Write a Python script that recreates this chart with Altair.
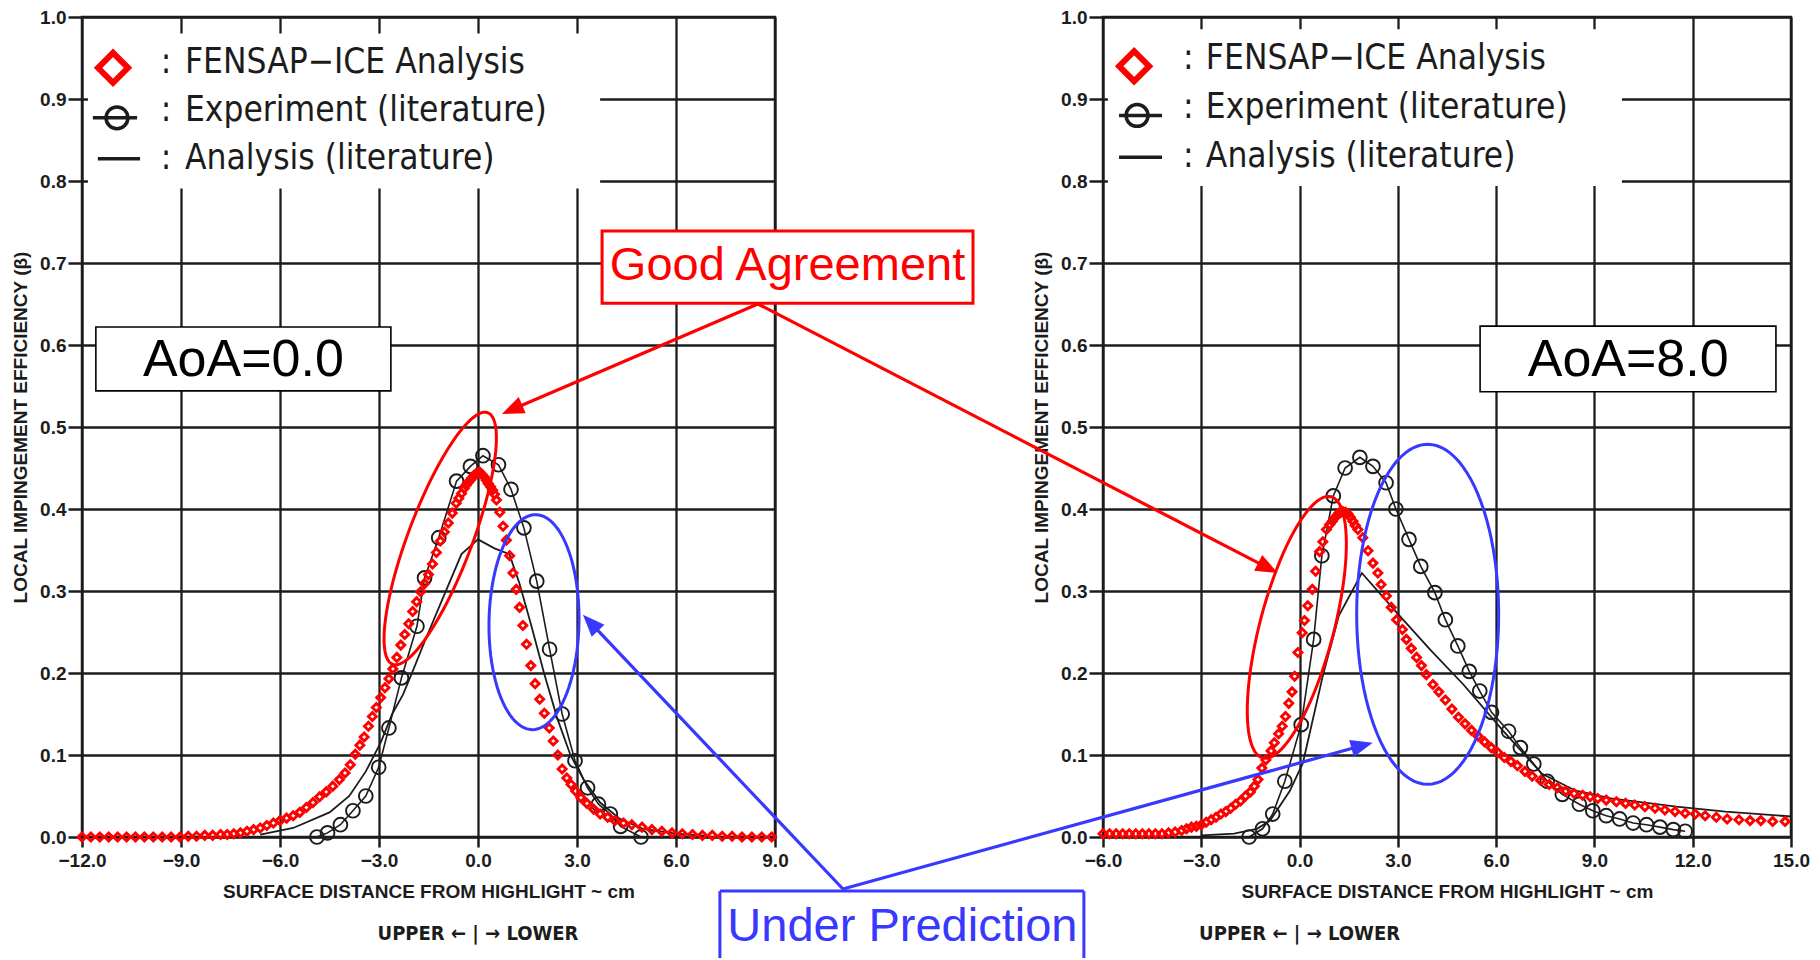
import math
import altair as alt
import pandas as pd

# ---------------- data ----------------
# Left panel: AoA = 0.0
L_FEN_X = [-12.0, -11.73, -11.46, -11.19, -10.92, -10.65, -10.38, -10.11, -9.84, -9.57,
           -9.3, -9.03, -8.78, -8.53, -8.28, -8.04, -7.8, -7.6, -7.4, -7.2,
           -7.0, -6.8, -6.6, -6.4, -6.2, -6.0, -5.8, -5.6, -5.4, -5.2,
           -5.0, -4.8, -4.6, -4.4, -4.2, -4.03, -3.87, -3.72, -3.58, -3.45,
           -3.32, -3.2, -3.08, -2.95, -2.82, -2.7, -2.58, -2.46, -2.34, -2.22,
           -2.1, -1.98, -1.86, -1.74, -1.62, -1.5, -1.38, -1.26, -1.14, -1.02,
           -0.9, -0.78, -0.66, -0.58, -0.5, -0.42, -0.36, -0.3, -0.24, -0.18,
           -0.12, -0.06, 0.0, 0.05, 0.12, 0.19, 0.25, 0.31, 0.38, 0.44,
           0.5, 0.56, 0.66, 0.76, 0.86, 0.96, 1.06, 1.16, 1.26, 1.36,
           1.47, 1.6, 1.73, 1.87, 2.01, 2.16, 2.28, 2.42, 2.55, 2.69,
           2.82, 2.96, 3.12, 3.3, 3.5, 3.7, 3.93, 4.15, 4.41, 4.66,
           4.97, 5.27, 5.57, 5.88, 6.19, 6.5, 6.8, 7.1, 7.4, 7.7,
           8.0, 8.3, 8.6, 8.9]
L_FEN_Y = [0, 0, 0, 0, 0, 0, 0, 0, 0, 0,
           0, 0, 0.001, 0.001, 0.002, 0.002, 0.003, 0.003, 0.004, 0.005,
           0.007, 0.009, 0.011, 0.014, 0.017, 0.02, 0.023, 0.026, 0.03, 0.036,
           0.042, 0.049, 0.055, 0.062, 0.07, 0.078, 0.088, 0.101, 0.112, 0.122,
           0.135, 0.147, 0.158, 0.17, 0.182, 0.193, 0.205, 0.219, 0.234, 0.247,
           0.26, 0.275, 0.287, 0.299, 0.309, 0.32, 0.333, 0.347, 0.361, 0.372,
           0.383, 0.395, 0.407, 0.413, 0.419, 0.425, 0.429, 0.432, 0.435, 0.438,
           0.441, 0.443, 0.444, 0.445, 0.442, 0.439, 0.435, 0.431, 0.427, 0.423,
           0.418, 0.411, 0.396, 0.379, 0.362, 0.343, 0.322, 0.302, 0.28, 0.258,
           0.235, 0.209, 0.187, 0.168, 0.151, 0.133, 0.117, 0.1, 0.083, 0.072,
           0.064, 0.056, 0.048, 0.041, 0.034, 0.028, 0.024, 0.02, 0.017, 0.015,
           0.012, 0.009, 0.007, 0.005, 0.004, 0.003, 0.002, 0.002, 0.001, 0.001,
           0, 0, 0, 0]
L_EXP_X = [-4.88, -4.56, -4.17, -3.79, -3.4, -3.01, -2.7, -2.32, -1.85, -1.62,
           -1.19, -0.65, -0.23, 0.15, 0.62, 1.0, 1.39, 1.78, 2.17, 2.55,
           2.94, 3.32, 3.65, 4.01, 4.32, 4.94]
L_EXP_Y = [0.0, 0.005, 0.015, 0.032, 0.05, 0.085, 0.133, 0.194, 0.257, 0.316,
           0.365, 0.434, 0.452, 0.465, 0.454, 0.424, 0.377, 0.312, 0.229, 0.15,
           0.093, 0.06, 0.04, 0.028, 0.013, 0.0]
L_ANA_X = [-6.6, -5.6, -4.5, -3.9, -3.4, -2.95, -2.6, -2.27, -1.95, -1.61,
           -1.1, -0.5, 0.0, 0.5, 0.95, 1.25, 1.6, 2.0, 2.4, 2.8,
           3.2, 3.7, 4.3, 5.0, 6.0, 7.0]
L_ANA_Y = [0.003, 0.011, 0.03, 0.05, 0.08, 0.115, 0.15, 0.174, 0.205, 0.239,
           0.288, 0.345, 0.363, 0.352, 0.345, 0.31, 0.26, 0.2, 0.145, 0.1,
           0.07, 0.042, 0.022, 0.01, 0.004, 0.001]

# Right panel: AoA = 8.0
R_FEN_X = [-6.0, -5.8, -5.6, -5.4, -5.2, -5.0, -4.8, -4.6, -4.4, -4.2,
           -4.0, -3.8, -3.6, -3.45, -3.3, -3.15, -3.0, -2.85, -2.7, -2.55,
           -2.4, -2.25, -2.1, -1.95, -1.8, -1.65, -1.5, -1.38, -1.27, -1.15,
           -1.03, -0.87, -0.77, -0.64, -0.53, -0.43, -0.33, -0.23, -0.15, -0.05,
           0.08, 0.15, 0.25, 0.39, 0.49, 0.61, 0.71, 0.82, 0.92, 1.0,
           1.07, 1.14, 1.2, 1.26, 1.32, 1.4, 1.48, 1.55, 1.63, 1.7,
           1.78, 1.93, 2.09, 2.24, 2.39, 2.49, 2.65, 2.8, 2.96, 3.14,
           3.26, 3.41, 3.57, 3.72, 3.87, 4.07, 4.25, 4.45, 4.65, 4.85,
           5.05, 5.25, 5.45, 5.65, 5.85, 6.05, 6.25, 6.45, 6.65, 6.88,
           7.1, 7.36, 7.62, 7.87, 8.13, 8.38, 8.64, 8.87, 9.1, 9.36,
           9.67, 9.95, 10.23, 10.54, 10.85, 11.15, 11.46, 11.77, 12.08, 12.38,
           12.72, 13.05, 13.41, 13.75, 14.08, 14.44, 14.82]
R_FEN_Y = [0.004, 0.004, 0.004, 0.004, 0.004, 0.004, 0.004, 0.004, 0.004, 0.004,
           0.005, 0.006, 0.008, 0.01, 0.012, 0.013, 0.015, 0.018, 0.021, 0.024,
           0.028, 0.031, 0.035, 0.04, 0.044, 0.05, 0.055, 0.062, 0.07, 0.084,
           0.094, 0.105, 0.115, 0.126, 0.135, 0.147, 0.163, 0.177, 0.196, 0.225,
           0.249, 0.264, 0.282, 0.302, 0.324, 0.348, 0.36, 0.375, 0.381, 0.385,
           0.389, 0.392, 0.395, 0.396, 0.397, 0.396, 0.394, 0.39, 0.385, 0.38,
           0.375, 0.365, 0.349, 0.334, 0.322, 0.308, 0.294, 0.28, 0.265, 0.253,
           0.241, 0.23, 0.219, 0.209, 0.198, 0.186, 0.177, 0.167, 0.156, 0.146,
           0.138, 0.13, 0.123, 0.116, 0.109, 0.103, 0.097, 0.092, 0.087, 0.08,
           0.074, 0.069, 0.064, 0.06, 0.056, 0.053, 0.051, 0.049, 0.047, 0.045,
           0.043, 0.041, 0.039, 0.037, 0.035, 0.033, 0.031, 0.029, 0.028, 0.026,
           0.024, 0.022, 0.021, 0.02, 0.02, 0.019, 0.019]
R_EXP_X = [-1.54, -1.13, -0.82, -0.45, 0.05, 0.43, 0.68, 1.03, 1.39, 1.84,
           2.24, 2.64, 2.94, 3.34, 3.7, 4.13, 4.45, 4.83, 5.18, 5.5,
           5.86, 6.38, 6.74, 7.15, 7.56, 8.02, 8.54, 8.95, 9.36, 9.77,
           10.18, 10.59, 11.0, 11.41, 11.77]
R_EXP_Y = [0.0, 0.01, 0.028, 0.068, 0.137, 0.241, 0.343, 0.416, 0.45, 0.463,
           0.452, 0.432, 0.4, 0.363, 0.33, 0.298, 0.265, 0.233, 0.202, 0.178,
           0.152, 0.129, 0.109, 0.089, 0.068, 0.052, 0.04, 0.032, 0.026, 0.022,
           0.017, 0.015, 0.012, 0.009, 0.007]
R_ANA_X = [-3.0, -2.0, -1.3, -0.9, -0.3, 0.1, 0.3, 0.7, 1.2, 1.9,
           3.0, 4.0, 5.0, 6.2, 7.4, 8.4, 9.5, 11.5, 13.0, 15.0]
R_ANA_Y = [0.002, 0.004, 0.01, 0.02, 0.056, 0.09, 0.125, 0.195, 0.27, 0.322,
           0.272, 0.228, 0.186, 0.13, 0.077, 0.057, 0.047, 0.037, 0.031, 0.025]

L_TICKS = [-12, -9, -6, -3, 0, 3, 6, 9]
R_TICKS = [-6, -3, 0, 3, 6, 9, 12, 15]
Y_TICKS = [i / 10 for i in range(11)]
LEGEND_LABELS = ["FENSAP\u2212ICE Analysis", "Experiment (literature)", "Analysis (literature)"]
XTITLE = "SURFACE DISTANCE FROM HIGHLIGHT ~ cm"
YTITLE = "LOCAL IMPINGEMENT EFFICIENCY (\u03b2)"
SIDE_NOTE = "UPPER \u2190 | \u2192 LOWER"

# ---------------- styling ----------------
RED = "#ff0000"
BLUE = "#3838ff"
INK = "#1c1c1c"
LEG_FONT = "Liberation Sans Narrow, DejaVu Sans Condensed, Liberation Sans"
AX_FONT = "Liberation Sans"
NOTE_FONT = "DejaVu Sans Condensed, Liberation Sans"
PANEL_H = 820
HEAD_PATH = "M0,0L0.4,1L-0.4,1Z"
HEAD_LEN = 22


def ellipse_path(ratio, n=96):
    pts = []
    for k in range(n):
        t = 2 * math.pi * k / n
        pts.append(f"{ratio * math.sin(t):.4f},{-math.cos(t):.4f}")
    return "M" + "L".join(pts) + "Z"


def panel(cfg):
    dom, width = cfg["dom"], cfg["width"]
    sx = width / (dom[1] - dom[0])
    sy = PANEL_H
    X = alt.X("x:Q", scale=alt.Scale(domain=dom, nice=False, zero=False),
              axis=alt.Axis(values=cfg["ticks"], format=".1f", title=XTITLE))
    Y = alt.Y("y:Q", scale=alt.Scale(domain=[0, 1], nice=False, zero=False),
              axis=alt.Axis(values=Y_TICKS, format=".1f", title=YTITLE))
    layers = []
    ana = pd.DataFrame({"x": cfg["ana"][0], "y": cfg["ana"][1]})
    exp = pd.DataFrame({"x": cfg["exp"][0], "y": cfg["exp"][1]})
    fen = pd.DataFrame({"x": cfg["fen"][0], "y": cfg["fen"][1]})
    layers.append(alt.Chart(ana).mark_line(color=INK, strokeWidth=1.8).encode(x=X, y=Y))
    layers.append(alt.Chart(exp).mark_line(color=INK, strokeWidth=1.6).encode(x=X, y=Y))
    layers.append(alt.Chart(exp).mark_point(shape="circle", size=190, filled=False, color=INK,
                                            strokeWidth=1.9, opacity=1).encode(x=X, y=Y))
    layers.append(alt.Chart(fen).mark_point(shape="diamond", size=64, filled=False, color=RED,
                                            strokeWidth=2.9, opacity=1).encode(x=X, y=Y))

    # ---- legend ----
    lb = cfg["legend_box"]
    layers.append(alt.Chart(pd.DataFrame({"x": [lb[0]], "x2": [lb[1]], "y": [lb[2]], "y2": [lb[3]]}))
                  .mark_rect(color="white", opacity=1).encode(x=X, x2="x2:Q", y=Y, y2="y2:Q"))
    dx, dy = cfg["leg_diamond"]
    layers.append(alt.Chart(pd.DataFrame({"x": [dx], "y": [dy]}))
                  .mark_point(shape="diamond", size=900, filled=False, color=RED, strokeWidth=6,
                              opacity=1).encode(x=X, y=Y))
    cx, cy, r1, r2 = cfg["leg_circle"]
    lx1, lx2, ly = cfg["leg_line"]
    layers.append(alt.Chart(pd.DataFrame({"x": [r1, lx1], "x2": [r2, lx2], "y": [cy, ly]}))
                  .mark_rule(color=INK, strokeWidth=3.5).encode(x=X, x2="x2:Q", y=Y))
    layers.append(alt.Chart(pd.DataFrame({"x": [cx], "y": [cy]}))
                  .mark_point(shape="circle", size=480, filled=False, color=INK, strokeWidth=3.5,
                              opacity=1).encode(x=X, y=Y))
    bl = cfg["leg_base"]
    layers.append(alt.Chart(pd.DataFrame({"x": [cfg["colon_x"]] * 3, "y": bl, "t": [":"] * 3}))
                  .mark_text(align="left", baseline="alphabetic", font=LEG_FONT, fontSize=35,
                             color=INK).encode(x=X, y=Y, text="t:N"))
    layers.append(alt.Chart(pd.DataFrame({"x": [cfg["text_x"]] * 3, "y": bl, "t": LEGEND_LABELS}))
                  .mark_text(align="left", baseline="alphabetic", font=LEG_FONT, fontSize=35,
                             color=INK).encode(x=X, y=Y, text="t:N"))

    # ---- AoA box ----
    ab = cfg["aoa_box"]
    layers.append(alt.Chart(pd.DataFrame({"x": [ab[0]], "x2": [ab[1]], "y": [ab[2]], "y2": [ab[3]]}))
                  .mark_rect(fill="white", stroke="black", strokeWidth=1.6, opacity=1)
                  .encode(x=X, x2="x2:Q", y=Y, y2="y2:Q"))
    tx, ty, tt = cfg["aoa_text"]
    layers.append(alt.Chart(pd.DataFrame({"x": [tx], "y": [ty], "t": [tt]}))
                  .mark_text(align="center", baseline="alphabetic", font=AX_FONT, fontSize=52,
                             color="black").encode(x=X, y=Y, text="t:N"))

    # ---- side note under the axis title ----
    layers.append(alt.Chart(pd.DataFrame({"x": [0.0], "y": [cfg["note_y"]], "t": [SIDE_NOTE]}))
                  .mark_text(align="center", baseline="alphabetic", font=NOTE_FONT, fontSize=20,
                             fontWeight="bold", color=INK).encode(x=X, y=Y, text="t:N"))

    # ---- ellipses ----
    erows = []
    for (ex, ey, semi, minor, ang, col) in cfg["ellipses"]:
        erows.append({"x": ex, "y": ey, "shape": ellipse_path(minor / semi),
                      "size": (2 * semi) ** 2, "angle": ang, "col": col})
    layers.append(alt.Chart(pd.DataFrame(erows))
                  .mark_point(filled=False, strokeWidth=3, opacity=1)
                  .encode(x=X, y=Y, shape=alt.Shape("shape:N", scale=None),
                          size=alt.Size("size:Q", scale=None),
                          angle=alt.Angle("angle:Q", scale=None),
                          color=alt.Color("col:N", scale=None)))

    # ---- boxes (left panel only) ----
    if "good_box" in cfg:
        gb = cfg["good_box"]
        layers.append(alt.Chart(pd.DataFrame({"x": [gb[0]], "x2": [gb[1]], "y": [gb[2]], "y2": [gb[3]]}))
                      .mark_rect(fill="white", stroke=RED, strokeWidth=3, opacity=1)
                      .encode(x=X, x2="x2:Q", y=Y, y2="y2:Q"))
        gx, gy, gt = cfg["good_text"]
        layers.append(alt.Chart(pd.DataFrame({"x": [gx], "y": [gy], "t": [gt]}))
                      .mark_text(align="center", baseline="alphabetic", font=AX_FONT, fontSize=47,
                                 color=RED).encode(x=X, y=Y, text="t:N"))
        ux1, ux2, uyt, uyb = cfg["under_box"]
        edges = pd.DataFrame({"x": [ux1, ux1, ux2], "x2": [ux2, ux1, ux2],
                              "y": [uyt, uyt, uyt], "y2": [uyt, uyb, uyb]})
        layers.append(alt.Chart(edges).mark_rule(color=BLUE, strokeWidth=3)
                      .encode(x=X, x2="x2:Q", y=Y, y2="y2:Q"))
        ux, uy, ut = cfg["under_text"]
        layers.append(alt.Chart(pd.DataFrame({"x": [ux], "y": [uy], "t": [ut]}))
                      .mark_text(align="center", baseline="alphabetic", font=AX_FONT, fontSize=47,
                                 color=BLUE).encode(x=X, y=Y, text="t:N"))

    # ---- arrows ----
    lines, heads = [], []
    for (xs, ys, xt, yt, col) in cfg["arrows"]:
        ddx = (xt - xs) * sx
        ddy = -(yt - ys) * sy
        ln = math.hypot(ddx, ddy)
        ux_, uy_ = ddx / ln, ddy / ln
        back = HEAD_LEN * 0.7
        lines.append({"x": xs, "y": ys, "x2": xt - ux_ * back / sx, "y2": yt + uy_ * back / sy,
                      "col": col})
        heads.append({"x": xt, "y": yt, "angle": math.degrees(math.atan2(ddx, -ddy)) % 360,
                      "col": col})
    layers.append(alt.Chart(pd.DataFrame(lines)).mark_rule(strokeWidth=3.2)
                  .encode(x=X, x2="x2:Q", y=Y, y2="y2:Q", color=alt.Color("col:N", scale=None)))
    layers.append(alt.Chart(pd.DataFrame(heads))
                  .mark_point(shape=HEAD_PATH, size=(2 * HEAD_LEN) ** 2, filled=True, opacity=1,
                              strokeWidth=0)
                  .encode(x=X, y=Y, angle=alt.Angle("angle:Q", scale=None),
                          color=alt.Color("col:N", scale=None)))

    return alt.layer(*layers).properties(width=width, height=PANEL_H)


left_cfg = {
    "dom": [-12, 9], "width": 693, "ticks": L_TICKS,
    "fen": (L_FEN_X, L_FEN_Y), "exp": (L_EXP_X, L_EXP_Y), "ana": (L_ANA_X, L_ANA_Y),
    "legend_box": (-11.82, 3.70, 0.980, 0.791),
    "leg_diamond": (-11.06, 0.938),
    "leg_circle": (-10.94, 0.877, -11.67, -10.33),
    "leg_line": (-11.52, -10.24, 0.827),
    "colon_x": -9.61, "text_x": -8.88, "leg_base": [0.932, 0.873, 0.815],
    "aoa_box": (-11.58, -2.64, 0.622, 0.544), "aoa_text": (-7.11, 0.562, "AoA=0.0"),
    "note_y": -0.1256,
    "ellipses": [(-1.145, 0.364, 134.5, 32, 20.7, RED), (1.697, 0.262, 107.5, 45, 1, BLUE)],
    "good_box": (3.76, 15.0, 0.739, 0.651), "good_text": (9.38, 0.679, "Good Agreement"),
    "under_box": (7.33, 18.36, -0.066, -0.1476), "under_text": (12.86, -0.127, "Under Prediction"),
    "arrows": [(8.48, 0.65, 0.727, 0.516, RED), (11.06, -0.0634, 3.18, 0.271, BLUE)],
}
right_cfg = {
    "dom": [-6, 15], "width": 688, "ticks": R_TICKS,
    "fen": (R_FEN_X, R_FEN_Y), "exp": (R_EXP_X, R_EXP_Y), "ana": (R_ANA_X, R_ANA_Y),
    "legend_box": (-5.85, 9.84, 0.985, 0.794),
    "leg_diamond": (-5.05, 0.940),
    "leg_circle": (-4.96, 0.880, -5.51, -4.20),
    "leg_line": (-5.51, -4.20, 0.829),
    "colon_x": -3.56, "text_x": -2.86, "leg_base": [0.937, 0.877, 0.817],
    "aoa_box": (5.51, 14.54, 0.623, 0.543), "aoa_text": (10.03, 0.562, "AoA=8.0"),
    "note_y": -0.1256,
    "ellipses": [(-0.084, 0.2557, 135, 37, 14.7, RED), (3.91, 0.2716, 170, 71, 0, BLUE)],
    "arrows": [(-16.53, 0.65, -0.667, 0.322, RED), (-13.94, -0.0634, 2.233, 0.115, BLUE)],
}

chart = (
    alt.hconcat(panel(left_cfg), panel(right_cfg), spacing=328, bounds="flush")
    .properties(padding={"left": 10, "top": 6, "right": 0, "bottom": 0}, background="white")
    .configure_axis(labelFont=AX_FONT, labelFontWeight="bold", labelFontSize=19, labelColor=INK,
                    titleFont=AX_FONT, titleFontWeight="bold", titleColor=INK,
                    grid=True, gridColor=INK, gridWidth=2.3, gridOpacity=1, domain=False,
                    tickColor=INK, tickWidth=2.5, labelFlush=False, labelOverlap=False)
    .configure_axisX(tickSize=10, labelPadding=4, titlePadding=12, titleFontSize=19)
    .configure_axisY(tickSize=14, labelPadding=2, titlePadding=9, titleFontSize=19)
    .configure_view(stroke=INK, strokeWidth=2.5)
)

chart.save("out.html", embed_options={"renderer": "svg", "actions": False})
